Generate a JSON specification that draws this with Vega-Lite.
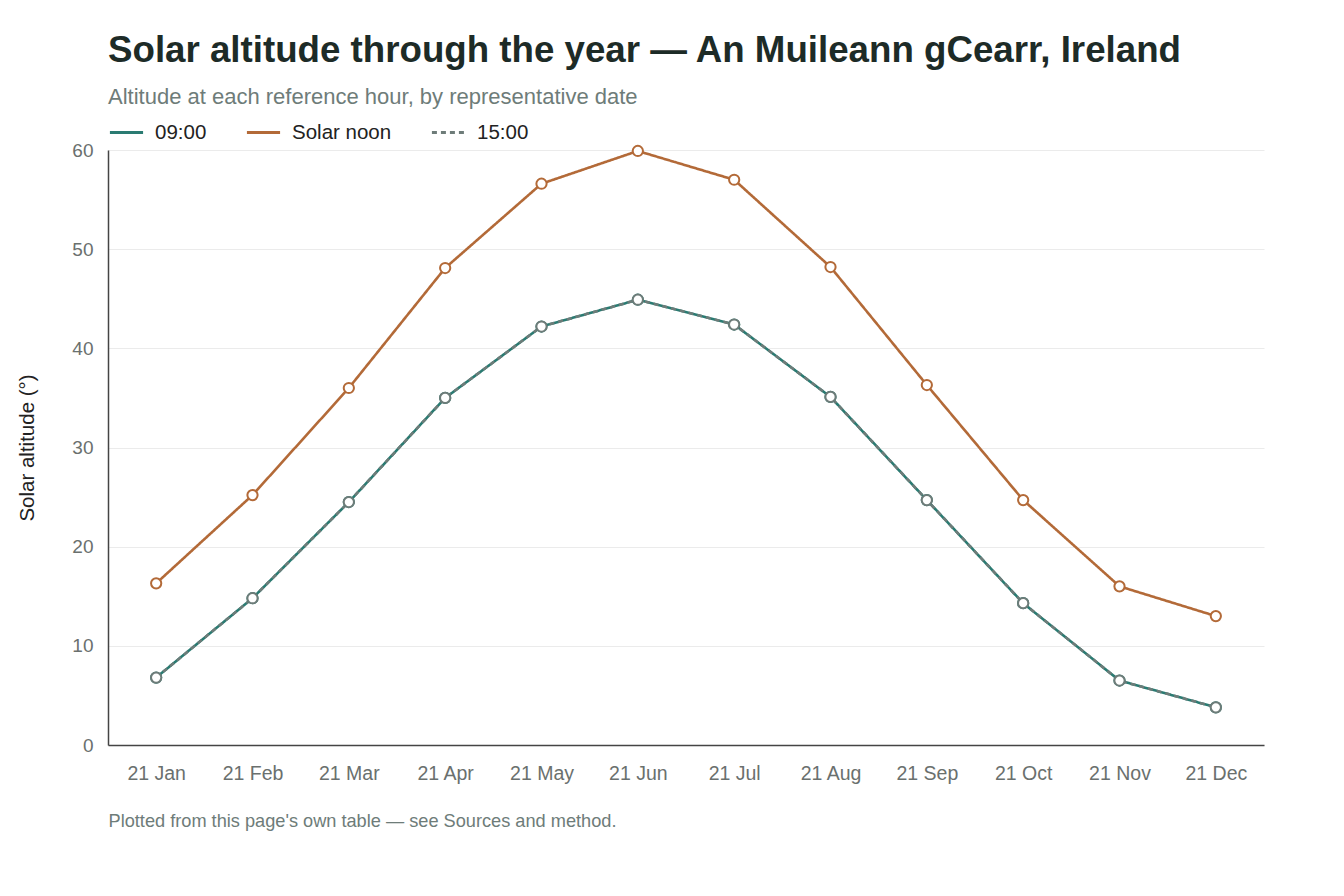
{
  "$schema": "https://vega.github.io/schema/vega-lite/v6.json",
  "autosize": {"type": "none"},
  "width": 1156,
  "height": 595,
  "padding": {"left": 108, "top": 150, "right": 80, "bottom": 151},
  "background": "white",
  "config": {
    "font": "Liberation Sans",
    "view": {"stroke": null}
  },
  "title": {
    "text": "Solar altitude through the year — An Muileann gCearr, Ireland",
    "subtitle": "Altitude at each reference hour, by representative date",
    "anchor": "start",
    "frame": "group",
    "fontSize": 36.7,
    "fontWeight": "bold",
    "color": "#1d2b27",
    "subtitleFontSize": 22,
    "subtitleColor": "#6e7c79",
    "subtitlePadding": 17,
    "offset": 6
  },
  "data": {
    "values": [
      {"date": "21 Jan", "series": "09:00", "altitude": 6.8},
      {"date": "21 Feb", "series": "09:00", "altitude": 14.8},
      {"date": "21 Mar", "series": "09:00", "altitude": 24.5},
      {"date": "21 Apr", "series": "09:00", "altitude": 35.0},
      {"date": "21 May", "series": "09:00", "altitude": 42.2},
      {"date": "21 Jun", "series": "09:00", "altitude": 44.9},
      {"date": "21 Jul", "series": "09:00", "altitude": 42.4},
      {"date": "21 Aug", "series": "09:00", "altitude": 35.1},
      {"date": "21 Sep", "series": "09:00", "altitude": 24.7},
      {"date": "21 Oct", "series": "09:00", "altitude": 14.3},
      {"date": "21 Nov", "series": "09:00", "altitude": 6.5},
      {"date": "21 Dec", "series": "09:00", "altitude": 3.8},
      {"date": "21 Jan", "series": "Solar noon", "altitude": 16.3},
      {"date": "21 Feb", "series": "Solar noon", "altitude": 25.2},
      {"date": "21 Mar", "series": "Solar noon", "altitude": 36.0},
      {"date": "21 Apr", "series": "Solar noon", "altitude": 48.1},
      {"date": "21 May", "series": "Solar noon", "altitude": 56.6},
      {"date": "21 Jun", "series": "Solar noon", "altitude": 59.9},
      {"date": "21 Jul", "series": "Solar noon", "altitude": 57.0},
      {"date": "21 Aug", "series": "Solar noon", "altitude": 48.2},
      {"date": "21 Sep", "series": "Solar noon", "altitude": 36.3},
      {"date": "21 Oct", "series": "Solar noon", "altitude": 24.7},
      {"date": "21 Nov", "series": "Solar noon", "altitude": 16.0},
      {"date": "21 Dec", "series": "Solar noon", "altitude": 13.0},
      {"date": "21 Jan", "series": "15:00", "altitude": 6.8},
      {"date": "21 Feb", "series": "15:00", "altitude": 14.8},
      {"date": "21 Mar", "series": "15:00", "altitude": 24.5},
      {"date": "21 Apr", "series": "15:00", "altitude": 35.0},
      {"date": "21 May", "series": "15:00", "altitude": 42.2},
      {"date": "21 Jun", "series": "15:00", "altitude": 44.9},
      {"date": "21 Jul", "series": "15:00", "altitude": 42.4},
      {"date": "21 Aug", "series": "15:00", "altitude": 35.1},
      {"date": "21 Sep", "series": "15:00", "altitude": 24.7},
      {"date": "21 Oct", "series": "15:00", "altitude": 14.3},
      {"date": "21 Nov", "series": "15:00", "altitude": 6.5},
      {"date": "21 Dec", "series": "15:00", "altitude": 3.8}
    ]
  },
  "encoding": {
    "x": {
      "field": "date",
      "type": "ordinal",
      "sort": null,
      "scale": {"type": "point", "padding": 0.5},
      "axis": {
        "title": "Plotted from this page's own table — see Sources and method.",
        "titleAnchor": "start",
        "titleAlign": "left",
        "titleFontSize": 18.2,
        "titleFontWeight": "normal",
        "titleColor": "#6e7c79",
        "titlePadding": 30,
        "labelAngle": 0,
        "labelFontSize": 19.5,
        "labelColor": "#6a706e",
        "labelPadding": 19,
        "ticks": false,
        "grid": false,
        "domainColor": "#444444",
        "domainWidth": 1.5
      }
    },
    "y": {
      "field": "altitude",
      "type": "quantitative",
      "scale": {"domain": [0, 60], "nice": false},
      "axis": {
        "title": "Solar altitude (°)",
        "titleFontSize": 20.5,
        "titleFontWeight": "normal",
        "titleColor": "#222222",
        "titleX": -71,
        "values": [0, 10, 20, 30, 40, 50, 60],
        "labelFontSize": 19,
        "labelColor": "#6a706e",
        "labelPadding": 15,
        "ticks": false,
        "gridColor": "#ebebeb",
        "gridWidth": 1,
        "domainColor": "#444444",
        "domainWidth": 1.5
      }
    }
  },
  "layer": [
    {
      "mark": {"type": "line", "strokeWidth": 2.6},
      "encoding": {
        "color": {
          "field": "series",
          "type": "nominal",
          "sort": null,
          "scale": {"domain": ["09:00", "Solar noon", "15:00"], "range": ["#2a7b72", "#b36a38", "#6e7c79"]},
          "legend": {
            "title": null,
            "orient": "none",
            "legendX": 0,
            "legendY": -36,
            "direction": "horizontal",
            "symbolType": "stroke",
            "symbolSize": 1100,
            "symbolStrokeWidth": 3,
            "labelFontSize": 20.5,
            "labelColor": "#222222",
            "labelOffset": 10,
            "columnPadding": 33
          }
        },
        "strokeDash": {
          "field": "series",
          "type": "nominal",
          "sort": null,
          "scale": {"domain": ["09:00", "Solar noon", "15:00"], "range": [[1, 0], [1, 0], [5, 4]]},
          "legend": {
            "title": null,
            "orient": "none",
            "legendX": 0,
            "legendY": -36,
            "direction": "horizontal",
            "symbolType": "stroke",
            "symbolSize": 1100,
            "symbolStrokeWidth": 3,
            "labelFontSize": 20.5,
            "labelColor": "#222222",
            "labelOffset": 10,
            "columnPadding": 33
          }
        }
      }
    },
    {
      "mark": {"type": "point", "filled": false, "fill": "white", "fillOpacity": 1, "strokeWidth": 2, "size": 105, "opacity": 1},
      "encoding": {
        "stroke": {
          "field": "series",
          "type": "nominal",
          "sort": null,
          "scale": {"domain": ["09:00", "Solar noon", "15:00"], "range": ["#2a7b72", "#b36a38", "#6e7c79"]},
          "legend": null
        }
      }
    }
  ]
}
